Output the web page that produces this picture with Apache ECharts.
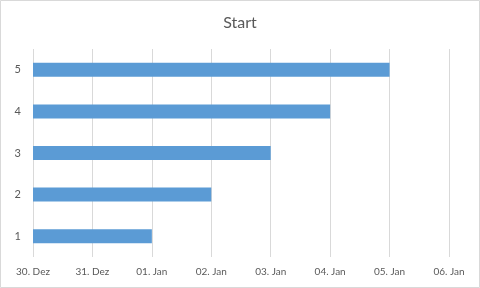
<!DOCTYPE html>
<html>
<head>
<meta charset="utf-8">
<script src="https://cdn.jsdelivr.net/npm/echarts@6/dist/echarts.min.js"></script>
<style>html,body{margin:0;padding:0;background:#fff}#c{width:480px;height:288px}</style>
</head>
<body>
<div id="c"></div>
<script>
// Data
var categories = ['1', '2', '3', '4', '5'];
var xTickLabels = ['30. Dez', '31. Dez', '01. Jan', '02. Jan', '03. Jan', '04. Jan', '05. Jan', '06. Jan'];
// end position of each bar, as index into xTickLabels (bars start at 30. Dez)
var endIndex = [2, 3, 4, 5, 6];

var chart = echarts.init(document.getElementById('c'), null, {renderer: 'canvas'});
var font = 'Lato, "Open Sans", "Liberation Sans", sans-serif';
chart.setOption({
  animation: false,
  backgroundColor: '#fff',
  title: {
    text: 'Start', left: 'center', top: 10,
    textStyle: {fontFamily: font, fontSize: 16, fontWeight: 'normal', color: '#595959'}
  },
  graphic: [{
    type: 'rect', shape: {x: 0.5, y: 0.5, width: 479, height: 287},
    style: {fill: 'none', stroke: '#d9d9d9', lineWidth: 1}, silent: true
  }],
  grid: {left: 33, right: 31, top: 49, bottom: 31, containLabel: false, outerBoundsMode: 'none'},
  xAxis: {
    type: 'value', min: 0, max: xTickLabels.length - 1, interval: 1,
    axisLine: {show: false}, axisTick: {show: false},
    splitLine: {show: true, lineStyle: {color: '#d9d9d9', width: 1}},
    axisLabel: {
      margin: 10, color: '#595959', fontSize: 10, fontFamily: font,
      formatter: function (v) { return xTickLabels[Math.round(v)] || ''; }
    }
  },
  yAxis: {
    type: 'category', data: categories,
    axisLine: {show: false}, axisTick: {show: false}, splitLine: {show: false},
    axisLabel: {margin: 12, color: '#595959', fontSize: 11, fontFamily: font}
  },
  series: [{
    type: 'bar', data: endIndex, barWidth: 14,
    itemStyle: {color: '#5B9BD5'}
  }]
});
</script>
</body>
</html>
